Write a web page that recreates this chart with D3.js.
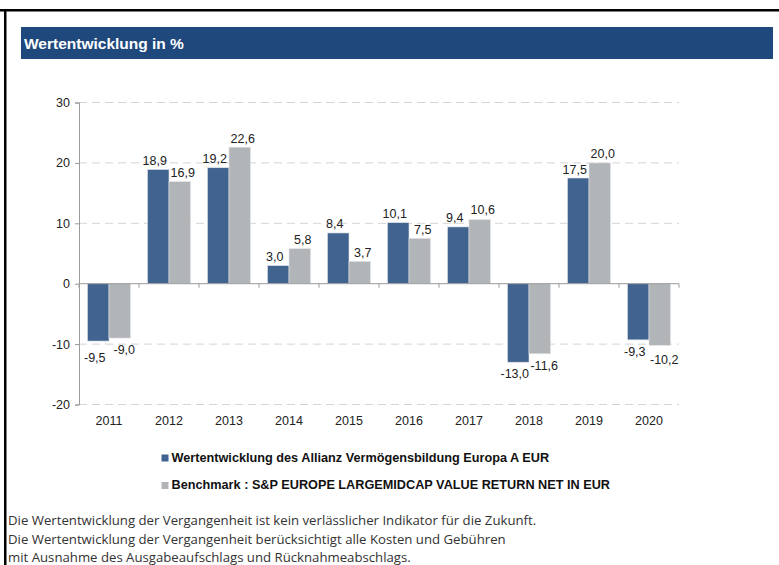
<!DOCTYPE html>
<html>
  <head>
    <meta charset="utf-8" />
    <title>Wertentwicklung</title>
    <style>
      body { margin: 0; background: #ffffff; }
    </style>
  </head>
  <body>
    <svg width="779" height="565" id="mainsvg"></svg>
    <script src="https://cdn.jsdelivr.net/npm/d3@7"></script>
    <script>
      const years = ["2011", "2012", "2013", "2014", "2015", "2016", "2017", "2018", "2019", "2020"];
      const fundValues = [-9.5, 18.9, 19.2, 3.0, 8.4, 10.1, 9.4, -13.0, 17.5, -9.3];
      const benchValues = [-9.0, 16.9, 22.6, 5.8, 3.7, 7.5, 10.6, -11.6, 20.0, -10.2];
      const seriesNames = [
        "Wertentwicklung des Allianz Vermögensbildung Europa A EUR",
        "Benchmark : S&P EUROPE LARGEMIDCAP VALUE RETURN NET IN EUR"
      ];
      const yTicks = [-20, -10, 0, 10, 20, 30];
      const footerLines = [
        "Die Wertentwicklung der Vergangenheit ist kein verlässlicher Indikator für die Zukunft.",
        "Die Wertentwicklung der Vergangenheit berücksichtigt alle Kosten und Gebühren",
        "mit Ausnahme des Ausgabeaufschlags und Rücknahmeabschlags."
      ];

      const colors = ["#41638f", "#b2b5b8"];
      const font = "Liberation Sans, Arial, sans-serif";
      const svg = d3.select("#mainsvg");
      const fmt = (v) => v.toFixed(1).replace(".", ",");

      // frame + header
      svg.append("rect").attr("x", 0).attr("y", 9).attr("width", 779).attr("height", 2.5).attr("fill", "#000");
      svg.append("rect").attr("x", 4).attr("y", 9).attr("width", 2.5).attr("height", 556).attr("fill", "#000");
      svg.append("rect").attr("x", 21).attr("y", 27).attr("width", 752).attr("height", 32).attr("fill", "#1f497d");
      svg.append("text")
        .attr("x", 24).attr("y", 48.5)
        .attr("fill", "#fff")
        .attr("font-family", font)
        .attr("font-weight", "bold")
        .attr("font-size", 15.5)
        .text("Wertentwicklung in %");

      const innerWidth = 600;
      const g = svg.append("g").attr("transform", "translate(79, 0)");

      const xScale = d3.scaleBand().domain(years).range([0, innerWidth]);
      const xSub = d3.scaleBand().domain([0, 1]).range([8.5, 60 - 8.5]);
      const yScale = d3.scaleLinear().domain([-20, 30]).range([404.5, 102.5]);

      // grid
      g.selectAll(".grid")
        .data(yTicks.filter((t) => t !== 0))
        .join("line")
        .attr("x1", 0).attr("x2", innerWidth)
        .attr("y1", (d) => yScale(d)).attr("y2", (d) => yScale(d))
        .attr("stroke", "#d4d4d4")
        .attr("stroke-width", 1)
        .attr("stroke-dasharray", "8,5");

      // y axis
      const yAxis = d3.axisLeft(yScale).tickValues(yTicks).tickSize(4).tickPadding(5).tickFormat((d) => d);
      const yAxisGroup = g.append("g").call(yAxis);
      yAxisGroup.select(".domain").attr("stroke", "#9a9a9a");
      yAxisGroup.selectAll(".tick line").attr("stroke", "#9a9a9a");
      yAxisGroup.selectAll("text")
        .attr("font-family", font)
        .attr("font-size", 12.5)
        .attr("fill", "#222");

      // bars
      const series = [fundValues, benchValues];
      series.forEach((vals, si) => {
        g.append("g")
          .selectAll("rect")
          .data(vals)
          .join("rect")
          .attr("x", (d, i) => xScale(years[i]) + xSub(si))
          .attr("width", xSub.bandwidth())
          .attr("y", (d) => yScale(Math.max(0, d)))
          .attr("height", (d) => Math.abs(yScale(d) - yScale(0)))
          .attr("fill", colors[si])
          .attr("stroke", "#dfe3e8")
          .attr("stroke-width", 0.6);
      });

      // value labels, with a simple push-apart when the pair would collide
      const labelY = (d) => (d >= 0 ? yScale(d) - 4.5 : yScale(d) + 16);
      const labels = [];
      years.forEach((yr, i) => {
        const pair = [fundValues[i], benchValues[i]];
        const ys = pair.map(labelY);
        if (Math.sign(pair[0]) === Math.sign(pair[1]) && Math.abs(ys[0] - ys[1]) < 8) {
          const outer = Math.abs(pair[0]) >= Math.abs(pair[1]) ? 0 : 1;
          const dir = pair[0] >= 0 ? -1 : 1;
          ys[outer] = ys[1 - outer] + dir * 8;
        }
        pair.forEach((v, si) => {
          labels.push({
            v: v,
            x: xScale(yr) + xSub(si) + xSub.bandwidth() / 2 + (si === 0 ? -3.5 : (v < 0 ? 4.5 : 3)),
            y: ys[si]
          });
        });
      });
      g.append("g")
        .selectAll("text")
        .data(labels)
        .join("text")
        .attr("x", (d) => d.x)
        .attr("y", (d) => d.y)
        .attr("text-anchor", "middle")
        .attr("font-family", font)
        .attr("font-size", 12.5)
        .attr("fill", "#222")
        .text((d) => fmt(d.v));

      // x axis at zero, ticks between categories
      g.append("line")
        .attr("x1", 0).attr("x2", innerWidth)
        .attr("y1", yScale(0)).attr("y2", yScale(0))
        .attr("stroke", "#9a9a9a");
      g.selectAll(".xtick")
        .data(years.concat(["end"]))
        .join("line")
        .attr("x1", (d, i) => i * xScale.bandwidth())
        .attr("x2", (d, i) => i * xScale.bandwidth())
        .attr("y1", yScale(0)).attr("y2", yScale(0) + 4)
        .attr("stroke", "#9a9a9a");
      g.selectAll(".xlabel")
        .data(years)
        .join("text")
        .attr("x", (d) => xScale(d) + xScale.bandwidth() / 2)
        .attr("y", 424.5)
        .attr("text-anchor", "middle")
        .attr("font-family", font)
        .attr("font-size", 12.5)
        .attr("fill", "#222")
        .text((d) => d);

      // legend
      const legend = svg.append("g");
      seriesNames.forEach((name, i) => {
        const ly = 461.5 + i * 27.5;
        legend.append("rect")
          .attr("x", 161.5).attr("y", ly - 7).attr("width", 7).attr("height", 7)
          .attr("fill", colors[i]);
        legend.append("text")
          .attr("x", 171.5).attr("y", ly)
          .attr("font-family", font)
          .attr("font-weight", "bold")
          .attr("font-size", 12.7)
          .attr("fill", "#111")
          .text(name);
      });

      // footer
      svg.append("g")
        .selectAll("text")
        .data(footerLines)
        .join("text")
        .attr("x", 8)
        .attr("y", (d, i) => 525 + i * 18.5)
        .attr("font-family", "Open Sans, Noto Sans, sans-serif")
        .attr("font-size", 13.2)
        .attr("fill", "#333")
        .text((d) => d);
    </script>
  </body>
</html>
